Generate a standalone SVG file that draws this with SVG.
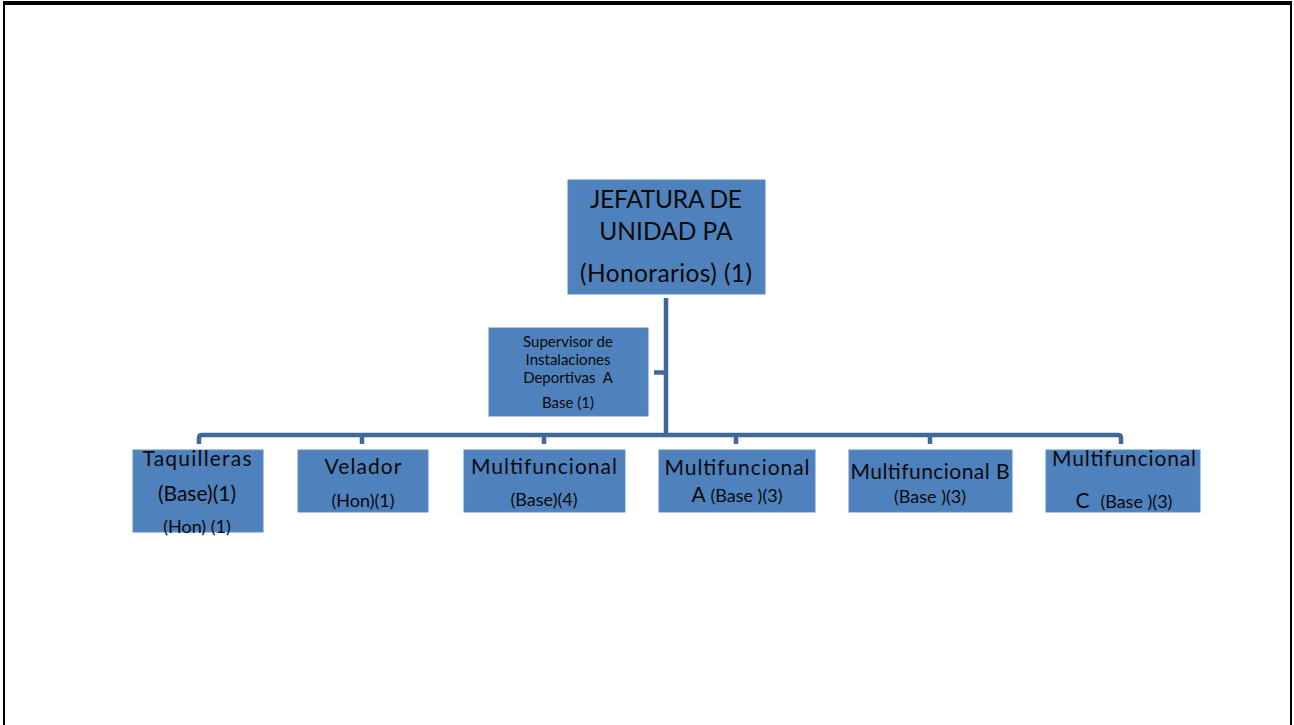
<svg xmlns="http://www.w3.org/2000/svg" width="1294" height="725" viewBox="0 0 1294 725">
<style>
.box{fill:#4F81BD;stroke:#5B8BC4;stroke-width:1}
.t{font-family:Lato,"Open Sans","Liberation Sans",sans-serif;fill:#0a0a0a;text-anchor:middle}
.big{font-size:24.5px}
.lg{font-size:21px}
.sm{font-size:18px}
.xs{font-size:15px}
.con{fill:none;stroke:#41689B;stroke-width:4.5;stroke-linejoin:round}
</style>
<rect x="0" y="0" width="1294" height="725" fill="#fff"/>
<g id="frame">
<rect x="3" y="1" width="1289" height="4" fill="#000"/>
<rect x="3" y="1" width="2" height="724" fill="#000"/>
<rect x="1290" y="1" width="2" height="724" fill="#000"/>
</g>
<g id="connectors">
<path class="con" d="M666 298 V435"/>
<path class="con" d="M654 372.5 H666"/>
<path class="con" d="M199 444 V438 Q199 435 202 435 H1118 Q1121 435 1121 438 V444"/>
<path class="con" d="M362 435 V444 M544 435 V444 M736 435 V444 M930 435 V444"/>
</g>
<g id="jefatura">
<rect class="box" x="568" y="180" width="197" height="114"/>
<text class="t big" x="666" y="208" textLength="152" lengthAdjust="spacing">JEFATURA DE</text>
<text class="t big" x="666" y="240">UNIDAD PA</text>
<text class="t big" x="666" y="282" textLength="172" lengthAdjust="spacing">(Honorarios) (1)</text>
</g>
<g id="supervisor">
<rect class="box" x="489" y="328" width="159" height="88"/>
<text class="t xs" x="568" y="347">Supervisor de</text>
<text class="t xs" x="568" y="365">Instalaciones</text>
<text class="t xs" x="568" y="383" xml:space="preserve">Deportivas  A</text>
<text class="t xs" x="568" y="408">Base (1)</text>
</g>
<g id="taquilleras">
<rect class="box" x="133" y="450" width="130" height="82"/>
<text class="t lg" x="197" y="466" textLength="109" lengthAdjust="spacing">Taquilleras</text>
<text class="t lg" x="197" y="501">(Base)(1)</text>
<text class="t sm" x="197" y="533">(Hon) (1)</text>
</g>
<g id="velador">
<rect class="box" x="298" y="450" width="130" height="62"/>
<text class="t lg" x="363" y="474" textLength="77" lengthAdjust="spacing">Velador</text>
<text class="t sm" x="363" y="507">(Hon)(1)</text>
</g>
<g id="multifuncional">
<rect class="box" x="464" y="450" width="161" height="62"/>
<text class="t lg" x="544" y="474" textLength="146" lengthAdjust="spacing">Multifuncional</text>
<text class="t sm" x="544" y="506">(Base)(4)</text>
</g>
<g id="multi-a">
<rect class="box" x="659" y="450" width="156" height="62"/>
<text class="t lg" x="737" y="475" textLength="145" lengthAdjust="spacing">Multifuncional</text>
<text class="t" x="737" y="502"><tspan class="lg">A </tspan><tspan class="sm">(Base )(3)</tspan></text>
</g>
<g id="multi-b">
<rect class="box" x="849" y="450" width="163" height="62"/>
<text class="t lg" x="930" y="479" textLength="159" lengthAdjust="spacing">Multifuncional B</text>
<text class="t sm" x="930" y="503">(Base )(3)</text>
</g>
<g id="multi-c">
<rect class="box" x="1046" y="450" width="154" height="62"/>
<text class="t lg" x="1124" y="466" textLength="144" lengthAdjust="spacing">Multifuncional</text>
<text class="t" x="1124" y="508" xml:space="preserve"><tspan class="lg">C  </tspan><tspan class="sm">(Base )(3)</tspan></text>
</g>
</svg>
